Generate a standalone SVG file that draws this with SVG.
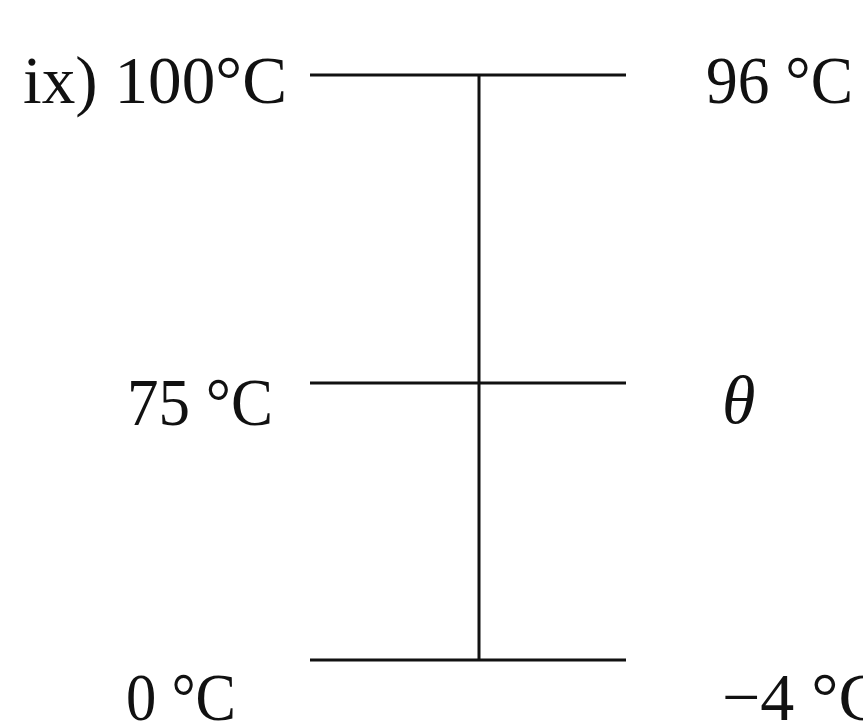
<svg xmlns="http://www.w3.org/2000/svg" width="863" height="724" viewBox="0 0 863 724">
<style>
.t{font-family:"Liberation Serif","DejaVu Serif",serif;font-size:68px;fill:#111}
.i{font-style:italic}
.l{stroke:#111;stroke-width:3;fill:none}
</style>
<rect width="863" height="724" fill="#fff"/>
<g id="connectors">
<line class="l" x1="310" y1="75" x2="626" y2="75"/>
<line class="l" x1="310" y1="383" x2="626" y2="383"/>
<line class="l" x1="310" y1="660" x2="626" y2="660"/>
<line class="l" x1="479" y1="75" x2="479" y2="660"/>
</g>
<g id="label-100"><text class="t" x="23" y="103" textLength="264" lengthAdjust="spacingAndGlyphs">ix) 100°C</text></g>
<g id="label-96"><text class="t" x="706" y="103" textLength="147" lengthAdjust="spacingAndGlyphs">96 °C</text></g>
<g id="label-75"><text class="t" x="127" y="425" textLength="146" lengthAdjust="spacingAndGlyphs">75 °C</text></g>
<g id="label-theta"><text class="t i" x="722" y="423">θ</text></g>
<g id="label-0"><text class="t" x="126" y="720" textLength="110" lengthAdjust="spacingAndGlyphs">0 °C</text></g>
<g id="label-m4"><text class="t" x="722" y="720">−4 °C</text></g>
</svg>
